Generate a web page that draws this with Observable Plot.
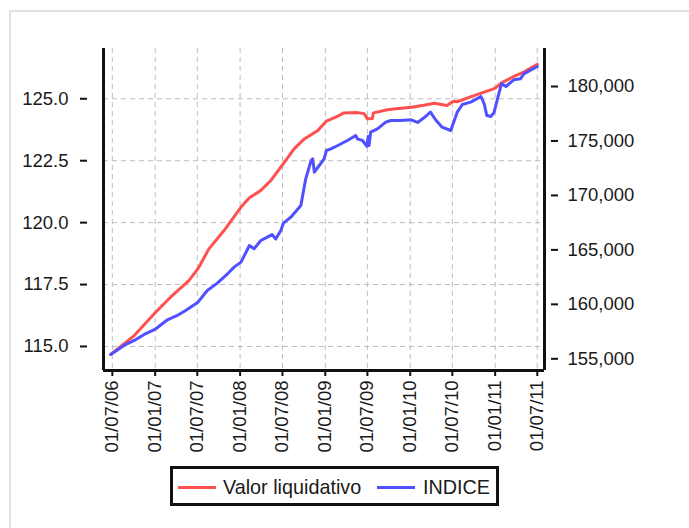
<!DOCTYPE html>
<html>
<head>
<meta charset="utf-8">
<script src="https://cdn.jsdelivr.net/npm/d3@7"></script>
<script src="https://cdn.jsdelivr.net/npm/@observablehq/plot@0.6"></script>
<style>
  html, body { margin: 0; padding: 0; background: #fff; }
  body { width: 689px; height: 528px; position: relative; overflow: hidden; font-family: "Liberation Sans", Arial, sans-serif; }
  #frame { position: absolute; left: 9px; top: 10px; right: -10px; bottom: -10px; border-left: 2px solid #e2e2e2; border-top: 2px solid #e2e2e2; }
  #chart { position: absolute; left: 0; top: 0; }
  #legend { position: absolute; left: 170px; top: 466px; width: 329px; height: 40px; box-sizing: border-box; border: 3px solid #111; background: #fff; }
  .sw { position: absolute; top: 17px; width: 38px; height: 3px; }
  .lb { position: absolute; top: 6px; font-size: 19.8px; color: #1a1a1a; line-height: 24px; white-space: nowrap; }
</style>
</head>
<body>
<div id="frame"></div>
<div id="chart"></div>
<div id="legend">
  <div class="sw" style="left:5px;background:#ff5050"></div>
  <div class="lb" style="left:50px" id="l1"></div>
  <div class="sw" style="left:204px;background:#5050ff"></div>
  <div class="lb" style="left:250px" id="l2"></div>
</div>
<script>
// Series names
const seriesNames = ["Valor liquidativo", "INDICE"];

// Valor liquidativo (left axis)
const valorDates = ["2006-06-24","2006-10-03","2007-01-04","2007-03-08","2007-05-26","2007-07-04","2007-08-20","2007-10-24","2008-01-05","2008-02-10","2008-03-30","2008-05-12","2008-07-05","2008-08-20","2008-10-03","2008-11-30","2009-01-06","2009-02-24","2009-03-22","2009-05-15","2009-06-17","2009-07-01","2009-07-22","2009-07-27","2009-09-25","2009-11-01","2010-01-07","2010-03-01","2010-04-15","2010-06-08","2010-07-05","2010-07-22","2010-10-02","2010-12-25","2011-01-04","2011-01-25","2011-03-22","2011-05-04","2011-07-01"];
const valorValues = [114.68,115.44,116.39,116.99,117.66,118.14,118.94,119.68,120.63,121.00,121.30,121.70,122.38,122.98,123.38,123.72,124.10,124.30,124.43,124.45,124.40,124.19,124.20,124.43,124.56,124.60,124.66,124.74,124.82,124.73,124.90,124.88,125.13,125.40,125.45,125.62,125.90,126.08,126.39];

// INDICE (right axis)
const indiceDates = ["2006-06-24","2006-08-20","2006-10-03","2006-11-15","2007-01-04","2007-02-23","2007-04-06","2007-05-12","2007-07-04","2007-08-13","2007-09-25","2007-11-08","2007-12-06","2008-01-05","2008-02-10","2008-03-01","2008-03-30","2008-04-27","2008-05-18","2008-06-02","2008-06-24","2008-07-05","2008-08-06","2008-09-18","2008-10-09","2008-11-01","2008-11-08","2008-11-15","2008-12-06","2008-12-27","2009-01-06","2009-01-25","2009-02-24","2009-04-06","2009-05-12","2009-05-19","2009-06-10","2009-06-29","2009-07-04","2009-07-08","2009-07-15","2009-08-13","2009-09-18","2009-10-09","2009-11-22","2010-01-05","2010-02-02","2010-03-01","2010-03-29","2010-04-20","2010-05-18","2010-06-24","2010-07-22","2010-08-13","2010-09-18","2010-11-01","2010-11-15","2010-11-26","2010-12-13","2010-12-27","2011-01-11","2011-01-28","2011-02-16","2011-03-22","2011-04-20","2011-05-04","2011-07-01"];
const indiceValues = [155398,156224,156683,157234,157754,158580,158978,159437,160202,161273,161946,162803,163415,163874,165404,165098,165863,166169,166400,166000,166781,167454,168005,169076,171524,173207,173360,172136,172748,173360,174125,174278,174584,175043,175502,175196,175043,174500,175400,174584,175808,176114,176726,176879,176879,176940,176700,177124,177644,176950,176267,175961,177644,178348,178562,179082,178409,177338,177246,177600,178868,180245,180000,180612,180704,181163,181836];

// Tick values
const leftTicks = [115.0, 117.5, 120.0, 122.5, 125.0];
const rightTicks = [155000, 160000, 165000, 170000, 175000, 180000];
const xTickLabels = ["01/07/06","01/01/07","01/07/07","01/01/08","01/07/08","01/01/09","01/07/09","01/01/10","01/07/10","01/01/11","01/07/11"];

// Scale settings
const leftDomain = [114.03, 127.03];
const rightDomain = [153926, 183489];
const xDomain = [new Date("2006-05-24"), new Date("2011-08-01")];

const toLeft = r => leftDomain[0] + (r - rightDomain[0]) / (rightDomain[1] - rightDomain[0]) * (leftDomain[1] - leftDomain[0]);
const toRight = v => rightDomain[0] + (v - leftDomain[0]) / (leftDomain[1] - leftDomain[0]) * (rightDomain[1] - rightDomain[0]);

const parseTick = s => { const [d, m, y] = s.split("/"); return new Date(Date.UTC(2000 + +y, +m - 1, +d)); };
const xTicks = xTickLabels.map(parseTick);

const valor = valorDates.map((d, i) => ({date: new Date(d), v: valorValues[i]}));
const indice = indiceDates.map((d, i) => ({date: new Date(d), v: toLeft(indiceValues[i])}));

const fmtDate = d3.utcFormat("%d/%m/%y");
const fmtComma = d3.format(",");

const chart = Plot.plot({
  width: 689,
  height: 460,
  marginTop: 48,
  marginBottom: 90,
  marginLeft: 103,
  marginRight: 145,
  style: {fontFamily: "'Liberation Sans', Arial, sans-serif", fontSize: "18px", color: "#1a1a1a", background: "transparent"},
  x: {type: "utc", domain: xDomain},
  y: {domain: leftDomain},
  marks: [
    Plot.gridY(leftTicks, {stroke: "#bdbdbd", strokeOpacity: 1, strokeDasharray: "5,4"}),
    Plot.gridX(xTicks, {stroke: "#bdbdbd", strokeOpacity: 1, strokeDasharray: "5,4"}),
    Plot.lineY(valor, {x: "date", y: "v", stroke: "#ff5050", strokeWidth: 3}),
    Plot.lineY(indice, {x: "date", y: "v", stroke: "#5050ff", strokeWidth: 3}),
    Plot.ruleX([xDomain[0]], {stroke: "#111", strokeWidth: 3}),
    Plot.ruleX([xDomain[1]], {stroke: "#111", strokeWidth: 3}),
    Plot.ruleY([leftDomain[0]], {stroke: "#111", strokeWidth: 3}),
    Plot.axisY(leftTicks, {anchor: "left", tickFormat: d => d.toFixed(1), tickSize: 7, tickPadding: 12, dx: -16, fontSize: 18.5, stroke: "#111", strokeWidth: 2, label: null}),
    Plot.axisY(rightTicks.map(toLeft), {anchor: "right", tickFormat: d => fmtComma(Math.round(toRight(d) / 1000) * 1000), tickSize: 7, tickPadding: 10, dx: 6, fontSize: 18.5, stroke: "#111", strokeWidth: 2, label: null}),
    Plot.axisX(xTicks, {anchor: "bottom", tickFormat: fmtDate, tickRotate: -90, tickSize: 6, tickPadding: 4, fontSize: 18.5, stroke: "#111", strokeWidth: 2, label: null})
  ]
});
document.getElementById("chart").appendChild(chart);
document.getElementById("l1").textContent = seriesNames[0];
document.getElementById("l2").textContent = seriesNames[1];
</script>
</body>
</html>
